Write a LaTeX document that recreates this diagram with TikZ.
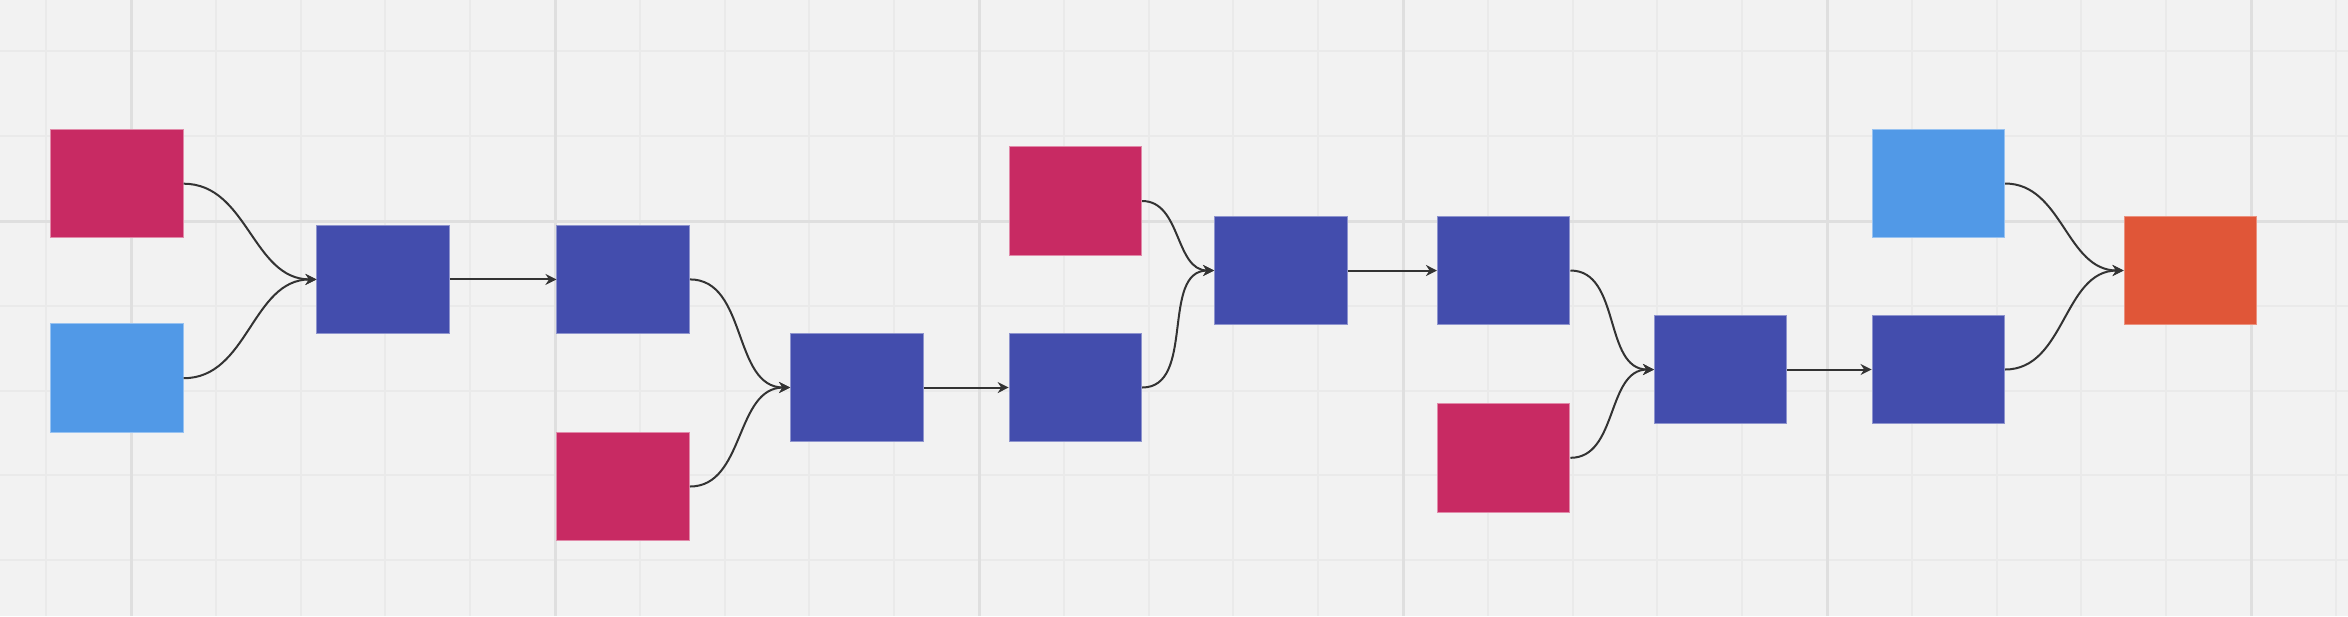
\documentclass[tikz,border=0pt]{standalone}
\usepackage{tikz}
\usepackage{xcolor}
\usetikzlibrary{arrows.meta}

\definecolor{canvas}{HTML}{F2F2F2}
\definecolor{gridminor}{HTML}{EAEAEA}
\definecolor{gridmajor}{HTML}{DFDFDF}
\definecolor{rose}{HTML}{C82A63}
\definecolor{sky}{HTML}{5199E7}
\definecolor{indigo}{HTML}{434DAD}
\definecolor{flame}{HTML}{E05638}
\definecolor{ink}{HTML}{333333}

\tikzset{
  box/.style={rectangle,inner sep=0pt,minimum width=13.25mm,minimum height=10.85mm,line width=0.1mm},
  rosebox/.style={box,fill=rose,draw=rose!55!white},
  skybox/.style={box,fill=sky,draw=sky!60!white},
  indigobox/.style={box,fill=indigo,draw=indigo!60!white},
  flamebox/.style={box,fill=flame,draw=flame!65!white},
  link/.style={draw=ink,line width=0.2mm,-{Stealth[length=1.1mm,width=1.1mm]}}
}

\begin{document}
\begin{tikzpicture}[x=0.1mm,y=-0.1mm]
            % canvas and grid
            \fill[canvas] (0,0) rectangle (2348,616);
            \useasboundingbox (0,0) rectangle (2348,616);
            \foreach \i in {0,...,27}
              \draw[gridminor,line width=0.2mm] ({46.2+84.8*\i},0) -- ({46.2+84.8*\i},616);
            \foreach \j in {0,...,6}
              \draw[gridminor,line width=0.2mm] (0,{51.4+84.8*\j}) -- (2348,{51.4+84.8*\j});
            \foreach \i in {0,...,5}
              \draw[gridmajor,line width=0.3mm] ({131+424*\i},0) -- ({131+424*\i},616);
            \draw[gridmajor,line width=0.3mm] (0,221) -- (2348,221);

            % boxes
            \node (a) at (116.9,183.7) [rosebox] {};
            \node (b) at (116.9,378.2) [skybox] {};
            \node (c) at (383.2,279.4) [indigobox] {};
            \node (d) at (623.2,279.4) [indigobox] {};
            \node (e) at (623.2,486.5) [rosebox] {};
            \node (f) at (856.8,387.5) [indigobox] {};
            \node (g) at (1075.4,201) [rosebox] {};
            \node (h) at (1075.4,387.5) [indigobox] {};
            \node (i) at (1280.8,270.5) [indigobox] {};
            \node (j) at (1503.7,270.5) [indigobox] {};
            \node (k) at (1503.7,457.8) [rosebox] {};
            \node (l) at (1720.7,369.5) [indigobox] {};
            \node (m) at (1938.3,183.5) [skybox] {};
            \node (n) at (1938.3,369.5) [indigobox] {};
            \node (o) at (2190.3,270.5) [flamebox] {};

            % connectors
            \draw[link] (a.east) to[out=0,in=180] (c.west);
            \draw[link] (b.east) to[out=0,in=180] (c.west);
            \draw[link] (c) -- (d);
            \draw[link] (d.east) to[out=0,in=180] (f.west);
            \draw[link] (e.east) to[out=0,in=180] (f.west);
            \draw[link] (f) -- (h);
            \draw[link] (g.east) to[out=0,in=180] (i.west);
            \draw[link] (h.east) to[out=0,in=180] (i.west);
            \draw[link] (i) -- (j);
            \draw[link] (j.east) to[out=0,in=180] (l.west);
            \draw[link] (k.east) to[out=0,in=180] (l.west);
            \draw[link] (l) -- (n);
            \draw[link] (m.east) to[out=0,in=180] (o.west);
            \draw[link] (n.east) to[out=0,in=180] (o.west);
        \end{tikzpicture}
\end{document}
